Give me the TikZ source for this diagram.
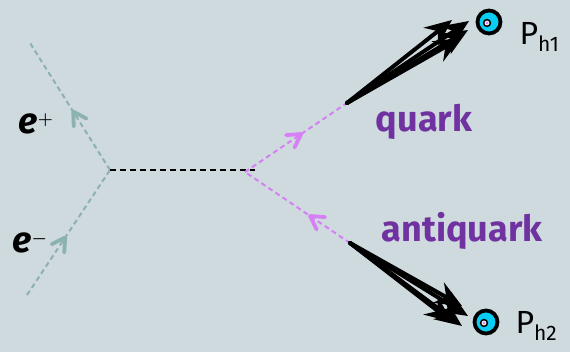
\documentclass[tikz,border=0pt]{standalone}
\usepackage{amsmath}
\usepackage{fontspec}
\setsansfont{Fira Sans}
\usetikzlibrary{arrows.meta, calc}
\definecolor{bggray}{RGB}{207,218,223}
\definecolor{lepton}{RGB}{140,178,176}
\definecolor{qviolet}{RGB}{214,128,246}
\definecolor{lblpurple}{RGB}{112,50,160}
\definecolor{hcyan}{RGB}{10,205,245}
\definecolor{hpink}{RGB}{220,140,240}

\begin{document}
\begin{tikzpicture}[x=1pt, y=-1pt, >=Stealth,
    font=\sffamily\bfseries,
    chevron/.style={line width=3.8pt, line cap=round, line join=round},
    lepline/.style={draw=lepton, line width=2pt, dash pattern=on 5pt off 3.5pt},
    qline/.style={draw=qviolet, line width=2pt, dash pattern=on 5pt off 3.5pt},
    jet/.style={line width=4pt, line cap=round,
        arrows={-Stealth[length=27pt, width=23pt, inset=9pt]}},
    hadron/.style={circle, draw=black, line width=3.8pt, fill=hcyan,
        minimum size=23pt, inner sep=0pt},
    elbl/.style={font=\sffamily\bfseries\itshape\fontsize{36}{36}\selectfont},
    qlbl/.style={text=lblpurple, font=\sffamily\bfseries\fontsize{36}{40}\selectfont},
    hlbl/.style={font=\sffamily\fontsize{32}{34}\selectfont}]
  \useasboundingbox[fill=bggray] (0,0) rectangle (570,352);
  % vertices and line ends
  \coordinate (vl) at (110,170);
  \coordinate (vr) at (245,172);
  \coordinate (epend) at (30,43);
  \coordinate (emend) at (27,295);
  \coordinate (q1) at (347,103);
  \coordinate (q2) at (350,243);
  % arrow marks on the fermion lines
  \coordinate (mem) at ($(emend)!0.46!(vl)$);
  \coordinate (mep) at ($(vl)!0.46!(epend)$);
  \coordinate (mq) at ($(vr)!0.55!(q1)$);
  \coordinate (maq) at ($(q2)!0.38!(vr)$);
  % incoming leptons
  \draw[lepline] (emend) -- (vl);
  \draw[lepline] (vl) -- (epend);
  \draw[lepton, chevron] ($(mem)!15pt!150:(vl)$) -- (mem) -- ($(mem)!15pt!-150:(vl)$);
  \draw[lepton, chevron] ($(mep)!15pt!150:(epend)$) -- (mep) -- ($(mep)!15pt!-150:(epend)$);
  \node[elbl] at (36,124) {e$^{\scriptscriptstyle\boldsymbol{+}}$};
  \node[elbl] at (30,243) {e$^{\scriptscriptstyle\boldsymbol{-}}$};
  % photon
  \draw[black, line width=1.8pt, dash pattern=on 6pt off 4pt] (vl) -- (255,170);
  % quark pair
  \draw[qline] (vr) -- (q1);
  \draw[qline] (q2) -- (vr);
  \draw[qviolet, chevron] ($(mq)!15pt!150:(q1)$) -- (mq) -- ($(mq)!15pt!-150:(q1)$);
  \draw[qviolet, chevron] ($(maq)!15pt!150:(vr)$) -- (maq) -- ($(maq)!15pt!-150:(vr)$);
  \node[qlbl] (quark) at (424,122) {quark};
  \node[qlbl] (antiquark) at (462,231) {antiquark};
  % hadrons
  \node[hadron] (h1) at (489,22) {};
  \node[hadron] (h2) at (486,322) {};
  \foreach \h in {h1,h2} {
    \draw[black, line width=1.5pt, fill=white] ($(\h)+(-2,1)$) circle (3.4pt);
    \fill[hpink] ($(\h)+(-2,1)$) circle (1.7pt);
  }
  \node[hlbl, anchor=west] at (516,37) {P$_{\text{\fontsize{21}{21}\selectfont h1}}$};
  \node[hlbl, anchor=west] at (512,326) {P$_{\text{\fontsize{21}{21}\selectfont h2}}$};
  % jets
  \foreach \tip in {(452,20), (469,21), (468,30), (461,38)}
    \draw[jet] (q1) -- \tip;
  \foreach \tip in {(462,306), (468,316), (462,326), (452,322)}
    \draw[jet] (q2) -- \tip;
\end{tikzpicture}
\end{document}
